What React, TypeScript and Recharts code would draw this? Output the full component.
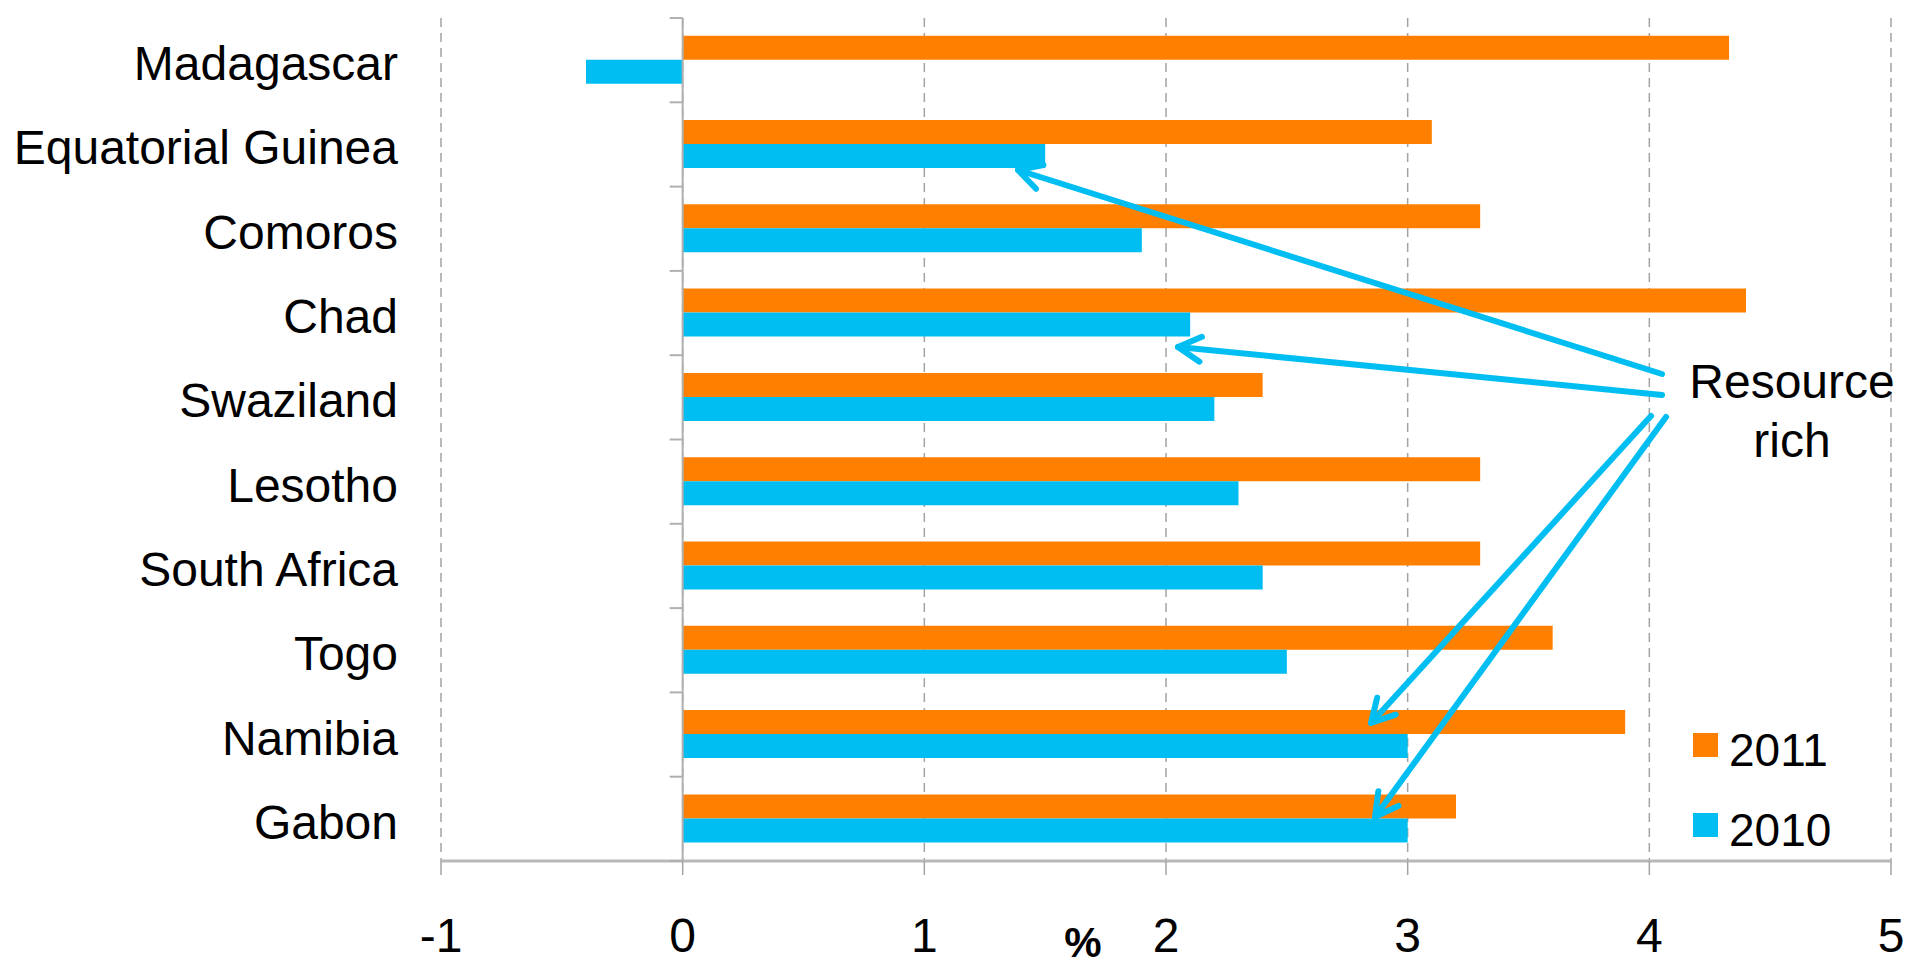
import React from 'react';
import { BarChart, Bar, XAxis, YAxis, CartesianGrid, ReferenceLine } from 'recharts';

const countries = [
  'Madagascar',
  'Equatorial Guinea',
  'Comoros',
  'Chad',
  'Swaziland',
  'Lesotho',
  'South Africa',
  'Togo',
  'Namibia',
  'Gabon',
];
const growth2011 = [4.33, 3.1, 3.3, 4.4, 2.4, 3.3, 3.3, 3.6, 3.9, 3.2];
const growth2010 = [-0.4, 1.5, 1.9, 2.1, 2.2, 2.3, 2.4, 2.5, 3.0, 3.0];
const xTicks = [-1, 0, 1, 2, 3, 4, 5];

const ORANGE = '#FF8000';
const BLUE = '#00BEF2';
const FONT = '"Liberation Sans", Arial, sans-serif';

const W = 1920;
const H = 966;
const MARGIN = { top: 18, right: 29, bottom: 0, left: 0 };
const Y_AXIS_W = 441;
const X_AXIS_H = 105;
const DOMAIN: [number, number] = [-1, 5];

const plotLeft = MARGIN.left + Y_AXIS_W;
const plotRight = W - MARGIN.right;
const plotTop = MARGIN.top;
const plotBottom = H - MARGIN.bottom - X_AXIS_H;
const bandH = (plotBottom - plotTop) / countries.length;
const zeroX = plotLeft + ((0 - DOMAIN[0]) / (DOMAIN[1] - DOMAIN[0])) * (plotRight - plotLeft);

const data = countries.map((country, i) => ({
  country,
  y2011: growth2011[i],
  y2010: growth2010[i],
}));

const legendItems = [
  { label: '2011', color: ORANGE },
  { label: '2010', color: BLUE },
];

// callout lines from the "Resource rich" note to the bars
const callouts = [
  { from: [1662, 374], to: [1018, 170] },
  { from: [1662, 395], to: [1178, 347] },
  { from: [1651, 416], to: [1371, 723] },
  { from: [1666, 417], to: [1375, 817] },
];

const CountryTick = (props: any) => {
  const { y, payload, index } = props;
  return (
    <g>
      <text
        x={398}
        y={y + 20}
        textAnchor="end"
        fontSize={48}
        fontFamily={FONT}
        fill="#000"
      >
        {payload.value}
      </text>
      <line x1={zeroX - 13} x2={zeroX} y1={y - bandH / 2} y2={y - bandH / 2} stroke="#b0b0b0" strokeWidth={2} />
      {index === countries.length - 1 && (
        <line x1={zeroX - 13} x2={zeroX} y1={y + bandH / 2} y2={y + bandH / 2} stroke="#b0b0b0" strokeWidth={2} />
      )}
    </g>
  );
};

const Arrow = ({ from, to }: { from: number[]; to: number[] }) => {
  const ang = Math.atan2(to[1] - from[1], to[0] - from[0]);
  const len = 26;
  const spread = 0.5;
  const b1 = [to[0] - len * Math.cos(ang - spread), to[1] - len * Math.sin(ang - spread)];
  const b2 = [to[0] - len * Math.cos(ang + spread), to[1] - len * Math.sin(ang + spread)];
  return (
    <g stroke={BLUE} strokeWidth={6} strokeLinecap="round" strokeLinejoin="round" fill="none">
      <line x1={from[0]} y1={from[1]} x2={to[0]} y2={to[1]} />
      <polyline points={`${b1[0]},${b1[1]} ${to[0]},${to[1]} ${b2[0]},${b2[1]}`} />
    </g>
  );
};

export default function App() {
  return (
    <div style={{ position: 'absolute', left: 0, top: 0, width: W, height: H, background: '#fff' }}>
      <BarChart
        width={W}
        height={H}
        data={data}
        layout="vertical"
        margin={MARGIN}
        barCategoryGap="21%"
        barGap={0}
      >
        <CartesianGrid horizontal={false} stroke="#a3a3a3" strokeDasharray="9 6" strokeWidth={1.5} />
        <XAxis
          type="number"
          domain={DOMAIN}
          ticks={xTicks}
          allowDataOverflow
          height={X_AXIS_H}
          axisLine={{ stroke: '#b8b8b8', strokeWidth: 3 }}
          tickLine={{ stroke: '#a3a3a3', strokeWidth: 1.5 }}
          tickSize={14}
          tickMargin={43}
          tick={{ fontSize: 48, fontFamily: FONT, fill: '#000' }}
        />
        <YAxis
          type="category"
          dataKey="country"
          width={Y_AXIS_W}
          axisLine={false}
          tickLine={false}
          interval={0}
          tick={<CountryTick />}
        />
        <ReferenceLine x={0} stroke="#b0b0b0" strokeWidth={2} />
        <Bar dataKey="y2011" name="2011" fill={ORANGE} isAnimationActive={false} />
        <Bar dataKey="y2010" name="2010" fill={BLUE} isAnimationActive={false} />
      </BarChart>
      <svg
        width={W}
        height={H}
        style={{ position: 'absolute', left: 0, top: 0, pointerEvents: 'none' }}
        fontFamily={FONT}
      >
        {callouts.map((c, i) => (
          <Arrow key={i} from={c.from} to={c.to} />
        ))}
        <text x={1792} y={398} textAnchor="middle" fontSize={48} fill="#000">
          Resource
        </text>
        <text x={1792} y={457} textAnchor="middle" fontSize={48} fill="#000">
          rich
        </text>
        {legendItems.map((item, i) => (
          <g key={item.label}>
            <rect x={1693} y={733 + i * 80} width={25} height={24} fill={item.color} />
            <text x={1729} y={766 + i * 80} fontSize={46} fill="#000">
              {item.label}
            </text>
          </g>
        ))}
        <text x={1083} y={957} textAnchor="middle" fontSize={42} fontWeight="bold" fill="#000">
          %
        </text>
      </svg>
    </div>
  );
}
